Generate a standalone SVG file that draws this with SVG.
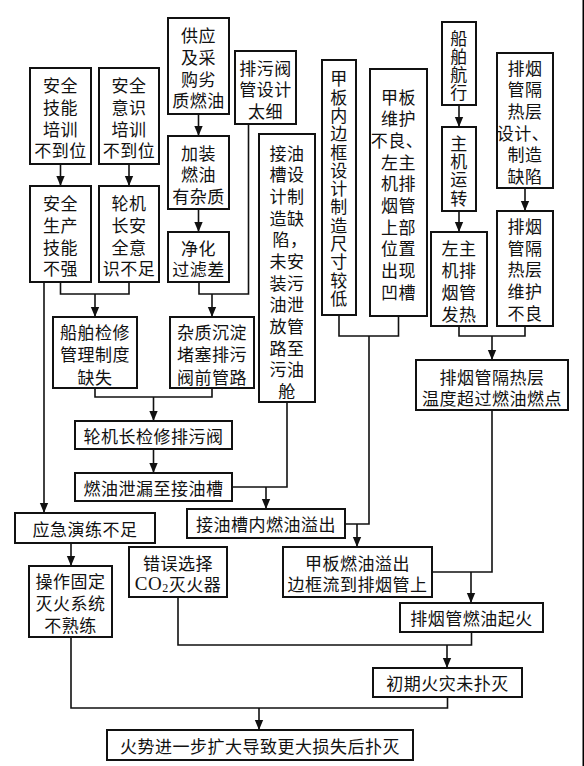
<svg xmlns="http://www.w3.org/2000/svg" width="584" height="766" viewBox="0 0 584 766">
<style>
.b{fill:#fff;stroke:#111;stroke-width:2}
.t{font-family:"Noto Sans CJK SC","Noto Sans CJK JP",sans-serif;font-size:17px;fill:#111;text-anchor:middle;dominant-baseline:central;letter-spacing:0.5px}
.c{fill:none;stroke:#111;stroke-width:1.6}
</style>
<defs>
<marker id="a" markerUnits="userSpaceOnUse" markerWidth="10" markerHeight="12" viewBox="0 0 12 10" refX="12" refY="5" orient="auto">
<path d="M0,0 L12,5 L0,10 Z" fill="#111"/>
</marker>
</defs>
<rect x="0" y="0" width="584" height="766" fill="#fff"/>
<rect x="582.5" y="0" width="1.5" height="766" fill="#000"/>

<g id="connectors">
<path class="c" d="M60.5 164V186" marker-end="url(#a)"/>
<path class="c" d="M129 164V186" marker-end="url(#a)"/>
<path class="c" d="M198.5 114V136" marker-end="url(#a)"/>
<path class="c" d="M198.5 209V232" marker-end="url(#a)"/>
<path class="c" d="M60.5 282V294H129V282"/>
<path class="c" d="M95 294V317" marker-end="url(#a)"/>
<path class="c" d="M199 282V294H248.5V124"/>
<path class="c" d="M212 294V317" marker-end="url(#a)"/>
<path class="c" d="M44 282V513" marker-end="url(#a)"/>
<path class="c" d="M95 388V397H212V388"/>
<path class="c" d="M153.5 397V421" marker-end="url(#a)"/>
<path class="c" d="M153.5 449V473" marker-end="url(#a)"/>
<path class="c" d="M232 487H287V402"/>
<path class="c" d="M266 487V509" marker-end="url(#a)"/>
<path class="c" d="M339 315V336H398.5V316"/>
<path class="c" d="M369 336V524H345"/>
<path class="c" d="M357 524V547" marker-end="url(#a)"/>
<path class="c" d="M459 105V127" marker-end="url(#a)"/>
<path class="c" d="M459 211V232" marker-end="url(#a)"/>
<path class="c" d="M525 188V211" marker-end="url(#a)"/>
<path class="c" d="M459 326V336H525V326"/>
<path class="c" d="M492 336V360" marker-end="url(#a)"/>
<path class="c" d="M492 410V572H432"/>
<path class="c" d="M471 572V603" marker-end="url(#a)"/>
<path class="c" d="M471.5 632V645H178V597"/>
<path class="c" d="M447 645V668" marker-end="url(#a)"/>
<path class="c" d="M71 543V566" marker-end="url(#a)"/>
<path class="c" d="M447.5 697V708H71V637"/>
<path class="c" d="M259 708V730" marker-end="url(#a)"/>
</g>

<g id="n1"><rect class="b" x="30" y="68" width="61" height="96"/>
<text class="t"><tspan x="60.5" y="84.3">安全</tspan><tspan x="60.5" y="106">技能</tspan><tspan x="60.5" y="127.5">培训</tspan><tspan x="60.5" y="149">不到位</tspan></text></g>

<g id="n2"><rect class="b" x="99" y="68" width="60" height="96"/>
<text class="t"><tspan x="129" y="84.3">安全</tspan><tspan x="129" y="106">意识</tspan><tspan x="129" y="127.5">培训</tspan><tspan x="129" y="149">不到位</tspan></text></g>

<g id="n3"><rect class="b" x="168" y="18" width="61" height="96"/>
<text class="t"><tspan x="198.5" y="34.3">供应</tspan><tspan x="198.5" y="56">及采</tspan><tspan x="198.5" y="77.7">购劣</tspan><tspan x="198.5" y="99.3">质燃油</tspan></text></g>

<g id="n4"><rect class="b" x="235" y="51" width="61" height="73"/>
<text class="t"><tspan x="265.5" y="66.7">排污阀</tspan><tspan x="265.5" y="88.3">管设计</tspan><tspan x="265.5" y="110">太细</tspan></text></g>

<g id="n5"><rect class="b" x="168" y="136" width="61" height="73"/>
<text class="t"><tspan x="198.5" y="151.7">加装</tspan><tspan x="198.5" y="173.3">燃油</tspan><tspan x="198.5" y="195">有杂质</tspan></text></g>

<g id="n6"><rect class="b" x="30" y="186" width="61" height="96"/>
<text class="t"><tspan x="60.5" y="202">安全</tspan><tspan x="60.5" y="224">生产</tspan><tspan x="60.5" y="245.5">技能</tspan><tspan x="60.5" y="267">不强</tspan></text></g>

<g id="n7"><rect class="b" x="99" y="186" width="60" height="96"/>
<text class="t"><tspan x="129" y="202">轮机</tspan><tspan x="129" y="224">长安</tspan><tspan x="129" y="245.5">全意</tspan><tspan x="129" y="267">识不足</tspan></text></g>

<g id="n8"><rect class="b" x="168" y="232" width="61" height="50"/>
<text class="t"><tspan x="198.5" y="246.7">净化</tspan><tspan x="198.5" y="268.3">过滤差</tspan></text></g>

<g id="n9"><rect class="b" x="259" y="134" width="56" height="268"/>
<text class="t"><tspan x="287" y="151.7">接油</tspan><tspan x="287" y="173.4">槽设</tspan><tspan x="287" y="195">计制</tspan><tspan x="287" y="216.7">造缺</tspan><tspan x="290" y="238.3">陷，</tspan><tspan x="287" y="260">未安</tspan><tspan x="287" y="281.7">装污</tspan><tspan x="287" y="303.3">油泄</tspan><tspan x="287" y="325">放管</tspan><tspan x="287" y="346.7">路至</tspan><tspan x="287" y="368.3">污油</tspan><tspan x="287" y="390">舱</tspan></text></g>

<g id="n10"><rect class="b" x="322" y="60" width="34" height="255"/>
<text class="t"><tspan x="339" y="77.3">甲</tspan><tspan x="339" y="95.6">板</tspan><tspan x="339" y="113.9">内</tspan><tspan x="339" y="132.2">边</tspan><tspan x="339" y="150.5">框</tspan><tspan x="339" y="168.8">设</tspan><tspan x="339" y="187.1">计</tspan><tspan x="339" y="205.4">制</tspan><tspan x="339" y="223.7">造</tspan><tspan x="339" y="242">尺</tspan><tspan x="339" y="260.3">寸</tspan><tspan x="339" y="278.6">较</tspan><tspan x="339" y="296.9">低</tspan></text></g>

<g id="n11"><rect class="b" x="370" y="69" width="57" height="247"/>
<text class="t"><tspan x="398.5" y="95.7">甲板</tspan><tspan x="398.5" y="117.4">维护</tspan><tspan x="397" y="139">不良、</tspan><tspan x="398.5" y="160.7">左主</tspan><tspan x="398.5" y="182.4">机排</tspan><tspan x="398.5" y="204">烟管</tspan><tspan x="398.5" y="225.7">上部</tspan><tspan x="398.5" y="247.4">位置</tspan><tspan x="398.5" y="269">出现</tspan><tspan x="398.5" y="290.7">凹槽</tspan></text></g>

<g id="n12"><rect class="b" x="442" y="22" width="34" height="83"/>
<text class="t"><tspan x="459" y="37">船</tspan><tspan x="459" y="55">舶</tspan><tspan x="459" y="73">航</tspan><tspan x="459" y="91">行</tspan></text></g>

<g id="n13"><rect class="b" x="442" y="127" width="34" height="84"/>
<text class="t"><tspan x="459" y="141.5">主</tspan><tspan x="459" y="159.8">机</tspan><tspan x="459" y="178.2">运</tspan><tspan x="459" y="196.5">转</tspan></text></g>

<g id="n14"><rect class="b" x="431" y="232" width="56" height="94"/>
<text class="t"><tspan x="459" y="247">左主</tspan><tspan x="459" y="269">机排</tspan><tspan x="459" y="291">烟管</tspan><tspan x="459" y="312.5">发热</tspan></text></g>

<g id="n15"><rect class="b" x="497" y="53" width="56" height="135"/>
<text class="t"><tspan x="525" y="66.7">排烟</tspan><tspan x="525" y="88.3">管隔</tspan><tspan x="525" y="110">热层</tspan><tspan x="523" y="131.7">设计、</tspan><tspan x="525" y="153.3">制造</tspan><tspan x="525" y="175">缺陷</tspan></text></g>

<g id="n16"><rect class="b" x="497" y="211" width="56" height="115"/>
<text class="t"><tspan x="525" y="225">排烟</tspan><tspan x="525" y="246.7">管隔</tspan><tspan x="525" y="268.4">热层</tspan><tspan x="525" y="290">维护</tspan><tspan x="525" y="311.7">不良</tspan></text></g>

<g id="n17"><rect class="b" x="416" y="360" width="152" height="50"/>
<text class="t"><tspan x="492" y="375.5">排烟管隔热层</tspan><tspan x="492" y="396.5">温度超过燃油燃点</tspan></text></g>

<g id="n18"><rect class="b" x="53" y="317" width="84" height="71"/>
<text class="t"><tspan x="95" y="330.5">船舶检修</tspan><tspan x="95" y="353">管理制度</tspan><tspan x="95" y="375.5">缺失</tspan></text></g>

<g id="n19"><rect class="b" x="170" y="317" width="84" height="71"/>
<text class="t"><tspan x="212" y="330.5">杂质沉淀</tspan><tspan x="212" y="353">堵塞排污</tspan><tspan x="212" y="375.5">阀前管路</tspan></text></g>

<g id="n20"><rect class="b" x="75" y="421" width="157" height="28"/>
<text class="t" x="153.5" y="435">轮机长检修排污阀</text></g>

<g id="n21"><rect class="b" x="75" y="473" width="157" height="28"/>
<text class="t" x="153.5" y="487">燃油泄漏至接油槽</text></g>

<g id="n22"><rect class="b" x="187" y="509" width="158" height="29"/>
<text class="t" x="266" y="523.5">接油槽内燃油溢出</text></g>

<g id="n23"><rect class="b" x="283" y="547" width="149" height="50"/>
<text class="t"><tspan x="357.5" y="561.7">甲板燃油溢出</tspan><tspan x="357.5" y="583.3">边框流到排烟管上</tspan></text></g>

<g id="n24"><rect class="b" x="400" y="603" width="143" height="29"/>
<text class="t" x="471.5" y="617.5">排烟管燃油起火</text></g>

<g id="n25"><rect class="b" x="373" y="668" width="149" height="29"/>
<text class="t" x="447.5" y="682.5">初期火灾未扑灭</text></g>

<g id="n26"><rect class="b" x="107" y="730" width="306" height="30"/>
<text class="t" x="260" y="745">火势进一步扩大导致更大损失后扑灭</text></g>

<g id="n27"><rect class="b" x="15" y="513" width="140" height="30"/>
<text class="t" x="85" y="528">应急演练不足</text></g>

<g id="n28"><rect class="b" x="29" y="566" width="83" height="71"/>
<text class="t"><tspan x="70.5" y="580">操作固定</tspan><tspan x="70.5" y="602.3">灭火系统</tspan><tspan x="70.5" y="624">不熟练</tspan></text></g>

<g id="n29"><rect class="b" x="129" y="547" width="98" height="50"/>
<text class="t"><tspan x="178" y="561.7">错误选择</tspan><tspan x="178" y="583.3" font-family="Liberation Serif, serif" font-size="19">CO</tspan><tspan font-family="Liberation Serif, serif" font-size="12" dy="5">2</tspan><tspan dy="-5">灭火器</tspan></text></g>
</svg>
